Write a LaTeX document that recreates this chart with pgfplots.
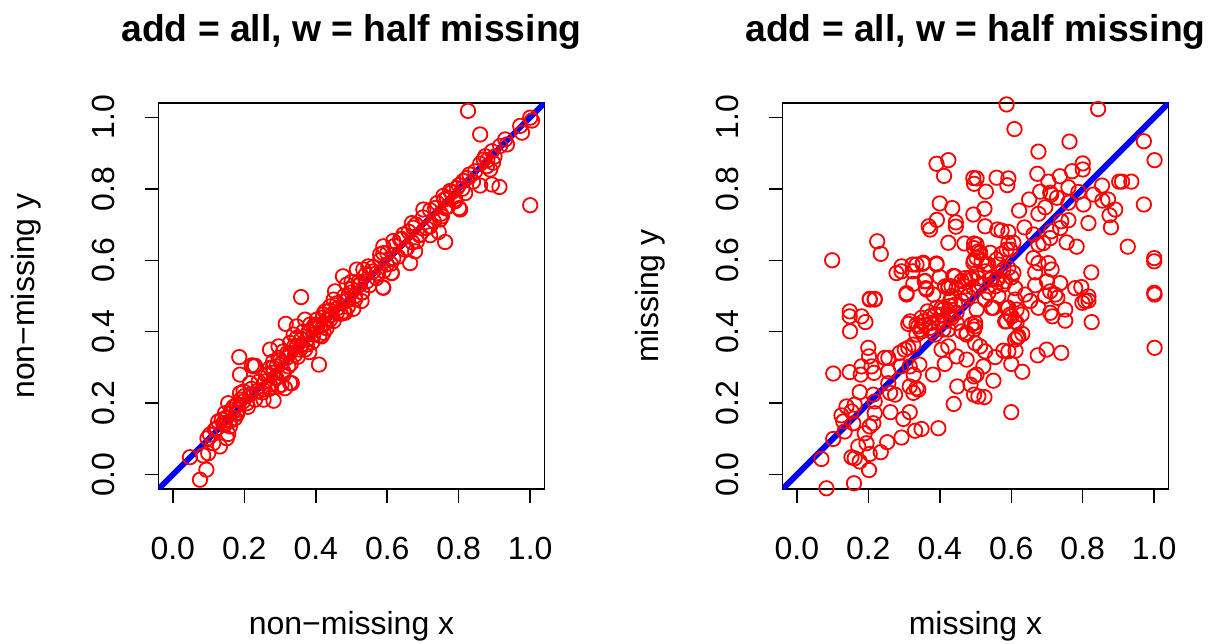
\documentclass[border=0pt]{standalone}
\usepackage{pgfplots}
\pgfplotsset{compat=1.18}
\usepackage{fontspec}
\setmainfont{Liberation Sans}
\pgfplotsset{
  rpanel/.style={
    scale only axis, width=386pt, height=386pt, anchor=south west,
    xmin=-0.04, xmax=1.04, ymin=-0.04, ymax=1.04,
    xtick={0,0.2,0.4,0.6,0.8,1}, ytick={0,0.2,0.4,0.6,0.8,1},
    xticklabels={0.0,0.2,0.4,0.6,0.8,1.0}, yticklabels={0.0,0.2,0.4,0.6,0.8,1.0},
    tick align=outside, major tick length=14pt, axis line style={line width=1.5pt},
    tick style={line width=1.5pt, black}, xtick pos=bottom, ytick pos=left,
    tick label style={font=\fontsize{32}{36}\selectfont},
    xticklabel style={anchor=base, yshift=-56pt},
    yticklabel style={rotate=90, anchor=base, yshift=30pt},
    label style={font=\fontsize{32}{36}\selectfont},
    xlabel style={at={(axis description cs:0.5,0)}, anchor=base, yshift=-145pt},
    ylabel style={at={(axis description cs:0,0.5)}, anchor=base, rotate=0, yshift=124pt},
    title style={at={(axis description cs:0.5,1)}, anchor=base, yshift=55pt, font=\fontsize{37.3}{42}\selectfont\bfseries},
    title={add = all, w = half missing},
    clip=true,
  },
  pts/.style={only marks, mark=o, mark size=7.2pt, color=red, mark options={line width=1.8pt, color=red}},
  abline/.style={no marks, color=blue, line width=6pt},
}
\begin{document}
\begin{tikzpicture}
\path[use as bounding box, fill=white] (0,0) rectangle (1210pt,643pt);
\begin{axis}[rpanel, at={(158.5pt,154pt)}, xlabel={non−missing x}, ylabel={non−missing y}]
\addplot[pts] table {
0.076 -0.014
0.094 0.014
0.048 0.049
0.085 0.054
0.099 0.060
0.132 0.079
0.113 0.088
0.097 0.102
0.118 0.126
0.155 0.114
0.151 0.102
0.137 0.154
0.127 0.149
0.160 0.135
0.146 0.172
0.155 0.200
0.174 0.158
0.184 0.182
0.188 0.280
0.186 0.329
0.226 0.303
0.221 0.306
0.188 0.228
0.198 0.233
0.216 0.256
0.207 0.200
0.254 0.210
0.282 0.207
0.272 0.350
0.296 0.359
0.316 0.422
0.347 0.415
0.370 0.434
0.359 0.497
0.333 0.256
0.314 0.242
0.296 0.247
0.409 0.308
0.382 0.343
0.338 0.392
0.394 0.415
0.422 0.397
0.426 0.457
0.450 0.490
0.478 0.457
0.104 0.112
0.123 0.130
0.141 0.144
0.169 0.177
0.179 0.196
0.197 0.205
0.216 0.224
0.235 0.233
0.258 0.261
0.267 0.280
0.281 0.285
0.291 0.303
0.305 0.313
0.319 0.327
0.328 0.341
0.347 0.359
0.361 0.364
0.375 0.378
0.393 0.392
0.412 0.415
0.431 0.434
0.445 0.448
0.463 0.467
0.482 0.485
0.253 0.238
0.272 0.252
0.286 0.271
0.309 0.289
0.323 0.303
0.342 0.336
0.356 0.350
0.375 0.364
0.403 0.411
0.421 0.420
0.440 0.434
0.459 0.453
0.272 0.299
0.281 0.317
0.296 0.327
0.309 0.345
0.328 0.369
0.347 0.383
0.365 0.401
0.384 0.420
0.403 0.434
0.421 0.448
0.440 0.471
0.179 0.173
0.165 0.182
0.146 0.140
0.826 1.018
0.860 0.952
1.000 0.999
1.005 0.991
0.972 0.976
0.977 0.957
0.930 0.938
0.935 0.924
0.916 0.920
0.893 0.905
0.874 0.891
0.870 0.882
0.888 0.854
0.879 0.863
0.896 0.873
0.846 0.849
0.823 0.830
0.860 0.809
0.893 0.812
0.914 0.805
1.000 0.754
0.818 0.788
0.795 0.802
0.767 0.774
0.790 0.765
0.801 0.746
0.804 0.742
0.701 0.742
0.748 0.714
0.753 0.723
0.669 0.704
0.720 0.670
0.744 0.679
0.762 0.651
0.678 0.625
0.664 0.592
0.636 0.658
0.589 0.620
0.580 0.616
0.613 0.564
0.588 0.524
0.515 0.574
0.547 0.583
0.533 0.574
0.561 0.569
0.524 0.532
0.692 0.672
0.720 0.695
0.734 0.746
0.762 0.746
0.683 0.653
0.655 0.634
0.617 0.606
0.599 0.588
0.571 0.564
0.543 0.541
0.776 0.794
0.757 0.780
0.813 0.822
0.645 0.672
0.617 0.654
0.589 0.639
0.673 0.691
0.476 0.555
0.454 0.513
0.487 0.532
0.490 0.490
0.500 0.510
0.510 0.500
0.520 0.530
0.500 0.540
0.530 0.510
0.230 0.305
0.589 0.523
0.612 0.565
0.482 0.453
0.505 0.464
0.528 0.486
0.416 0.387
0.328 0.257
0.304 0.252
0.20 0.22
0.21 0.19
0.22 0.24
0.23 0.21
0.24 0.26
0.25 0.23
0.26 0.28
0.27 0.24
0.28 0.30
0.29 0.27
0.30 0.32
0.31 0.28
0.32 0.34
0.33 0.31
0.34 0.36
0.35 0.33
0.36 0.38
0.37 0.35
0.38 0.40
0.39 0.37
0.40 0.42
0.41 0.39
0.42 0.44
0.43 0.41
0.44 0.46
0.45 0.43
0.46 0.48
0.47 0.45
0.48 0.50
0.49 0.47
0.50 0.52
0.51 0.49
0.52 0.54
0.53 0.51
0.54 0.56
0.55 0.53
0.56 0.58
0.57 0.55
0.58 0.60
0.59 0.57
0.60 0.62
0.61 0.59
0.62 0.64
0.63 0.61
0.64 0.66
0.65 0.63
0.66 0.68
0.67 0.65
0.68 0.70
0.69 0.67
0.70 0.72
0.71 0.69
0.72 0.74
0.73 0.71
0.74 0.76
0.75 0.73
0.76 0.77
0.77 0.75
0.78 0.79
0.79 0.77
0.80 0.81
0.81 0.80
0.83 0.84
0.84 0.82
0.86 0.87
0.88 0.88
0.90 0.89
0.15 0.16
0.16 0.15
0.17 0.19
0.18 0.17
0.19 0.21
};
\addplot[abline] coordinates {(-0.04,-0.04) (1.04,1.04)};
\end{axis}
\begin{axis}[rpanel, at={(782.5pt,154pt)}, xlabel={missing x}, ylabel={missing y}]
\addplot[pts] table {
0.099 0.600
0.225 0.653
0.235 0.618
0.391 0.870
0.424 0.880
0.412 0.836
0.494 0.830
0.496 0.814
0.400 0.759
0.435 0.746
0.494 0.728
0.392 0.713
0.369 0.695
0.445 0.706
0.445 0.694
0.424 0.649
0.469 0.647
0.496 0.647
0.496 0.634
0.496 0.600
0.293 0.583
0.279 0.564
0.293 0.569
0.324 0.588
0.324 0.569
0.352 0.590
0.391 0.591
0.400 0.553
0.326 0.534
0.358 0.541
0.361 0.522
0.307 0.508
0.204 0.492
0.218 0.492
0.443 0.555
0.471 0.550
0.471 0.527
0.433 0.527
0.424 0.522
0.489 0.546
0.415 0.527
0.587 1.036
0.843 1.023
0.609 0.967
0.763 0.932
0.676 0.904
0.971 0.933
1.001 0.880
0.800 0.871
0.800 0.854
0.770 0.849
0.673 0.842
0.736 0.835
0.704 0.820
0.559 0.831
0.592 0.829
0.589 0.810
0.503 0.829
0.529 0.792
0.760 0.804
0.681 0.792
0.709 0.789
0.712 0.784
0.788 0.791
0.854 0.809
0.902 0.820
0.910 0.820
0.936 0.820
0.830 0.784
0.650 0.770
0.855 0.767
0.871 0.770
0.802 0.756
0.760 0.761
0.728 0.775
0.695 0.748
0.622 0.739
0.676 0.730
0.525 0.744
0.891 0.742
0.875 0.726
0.971 0.756
0.760 0.712
0.740 0.709
0.737 0.690
0.816 0.704
0.879 0.692
0.637 0.692
0.527 0.695
0.561 0.686
0.573 0.683
0.592 0.679
0.662 0.672
0.712 0.681
0.709 0.662
0.690 0.648
0.676 0.644
0.755 0.650
0.783 0.638
0.926 0.638
0.592 0.648
0.597 0.630
0.503 0.644
0.508 0.625
0.573 0.618
0.662 0.606
0.676 0.592
0.704 0.592
0.713 0.574
0.824 0.566
0.667 0.566
0.601 0.552
0.700 0.541
0.737 0.536
0.667 0.530
0.779 0.522
0.796 0.525
0.709 0.513
1.000 0.606
1.000 0.597
1.000 0.509
0.517 0.597
0.536 0.588
0.564 0.588
0.592 0.578
0.527 0.569
0.564 0.550
0.611 0.522
0.555 0.527
0.583 0.541
0.508 0.550
0.639 0.504
0.723 0.504
0.816 0.499
0.204 0.490
0.218 0.490
0.307 0.504
0.148 0.457
0.148 0.443
0.181 0.443
0.192 0.427
0.149 0.401
0.312 0.422
0.366 0.457
0.340 0.415
0.200 0.355
0.202 0.331
0.246 0.327
0.256 0.327
0.302 0.350
0.312 0.355
0.288 0.341
0.326 0.364
0.102 0.283
0.148 0.287
0.179 0.280
0.181 0.303
0.216 0.285
0.209 0.303
0.256 0.289
0.291 0.303
0.316 0.303
0.327 0.280
0.343 0.308
0.381 0.280
0.414 0.310
0.405 0.350
0.424 0.359
0.447 0.331
0.475 0.322
0.496 0.275
0.486 0.252
0.449 0.247
0.439 0.198
0.496 0.224
0.475 0.397
0.496 0.406
0.176 0.231
0.214 0.224
0.218 0.205
0.256 0.256
0.261 0.229
0.275 0.224
0.316 0.247
0.335 0.242
0.326 0.229
0.340 0.238
0.139 0.191
0.162 0.196
0.153 0.177
0.125 0.166
0.130 0.149
0.158 0.144
0.134 0.121
0.102 0.100
0.069 0.044
0.218 0.172
0.262 0.175
0.316 0.175
0.298 0.156
0.214 0.144
0.204 0.135
0.190 0.116
0.396 0.130
0.349 0.128
0.331 0.123
0.293 0.104
0.253 0.091
0.195 0.088
0.172 0.079
0.153 0.049
0.162 0.046
0.176 0.037
0.204 0.058
0.235 0.063
0.202 0.013
0.160 -0.024
0.083 -0.038
0.359 0.420
0.377 0.425
0.396 0.425
0.405 0.448
0.424 0.457
0.443 0.476
0.461 0.486
0.433 0.439
0.415 0.429
0.377 0.401
0.349 0.401
0.424 0.406
0.447 0.425
0.387 0.448
0.405 0.467
0.429 0.486
0.349 0.439
0.480 0.500
0.499 0.415
1.001 0.504
0.825 0.427
1.001 0.355
0.600 0.175
0.525 0.217
0.508 0.219
0.550 0.263
0.631 0.288
0.600 0.310
0.522 0.303
0.503 0.280
0.555 0.329
0.527 0.345
0.513 0.359
0.578 0.347
0.592 0.345
0.612 0.347
0.617 0.383
0.631 0.394
0.674 0.334
0.699 0.350
0.740 0.341
0.587 0.429
0.609 0.429
0.597 0.448
0.629 0.448
0.592 0.467
0.550 0.467
0.615 0.462
0.653 0.486
0.676 0.467
0.709 0.453
0.715 0.443
0.751 0.462
0.751 0.431
0.799 0.481
0.807 0.486
0.816 0.487
0.729 0.495
0.695 0.500
0.564 0.500
0.527 0.490
0.611 0.490
0.503 0.462
0.513 0.621
0.335 0.588
0.354 0.593
0.391 0.588
0.359 0.542
0.363 0.518
0.382 0.504
0.438 0.556
0.461 0.542
0.485 0.551
0.503 0.565
0.531 0.588
0.559 0.602
0.587 0.630
0.606 0.649
0.494 0.593
0.503 0.607
0.541 0.621
0.578 0.574
0.606 0.565
0.424 0.528
0.447 0.523
0.433 0.500
0.471 0.509
0.494 0.523
0.517 0.532
0.541 0.546
0.559 0.546
0.578 0.532
0.536 0.509
0.429 0.472
0.410 0.462
0.391 0.467
0.373 0.443
0.354 0.429
0.335 0.420
0.345 0.406
0.373 0.411
0.387 0.392
0.410 0.406
0.429 0.444
0.447 0.453
0.335 0.392
0.317 0.429
0.499 0.425
0.475 0.392
0.489 0.420
0.461 0.401
0.499 0.368
0.545 0.467
0.587 0.467
0.601 0.443
0.615 0.425
0.583 0.429
0.620 0.387
0.611 0.378
0.373 0.686
};
\addplot[abline] coordinates {(-0.04,-0.04) (1.04,1.04)};
\end{axis}
\end{tikzpicture}
\end{document}
